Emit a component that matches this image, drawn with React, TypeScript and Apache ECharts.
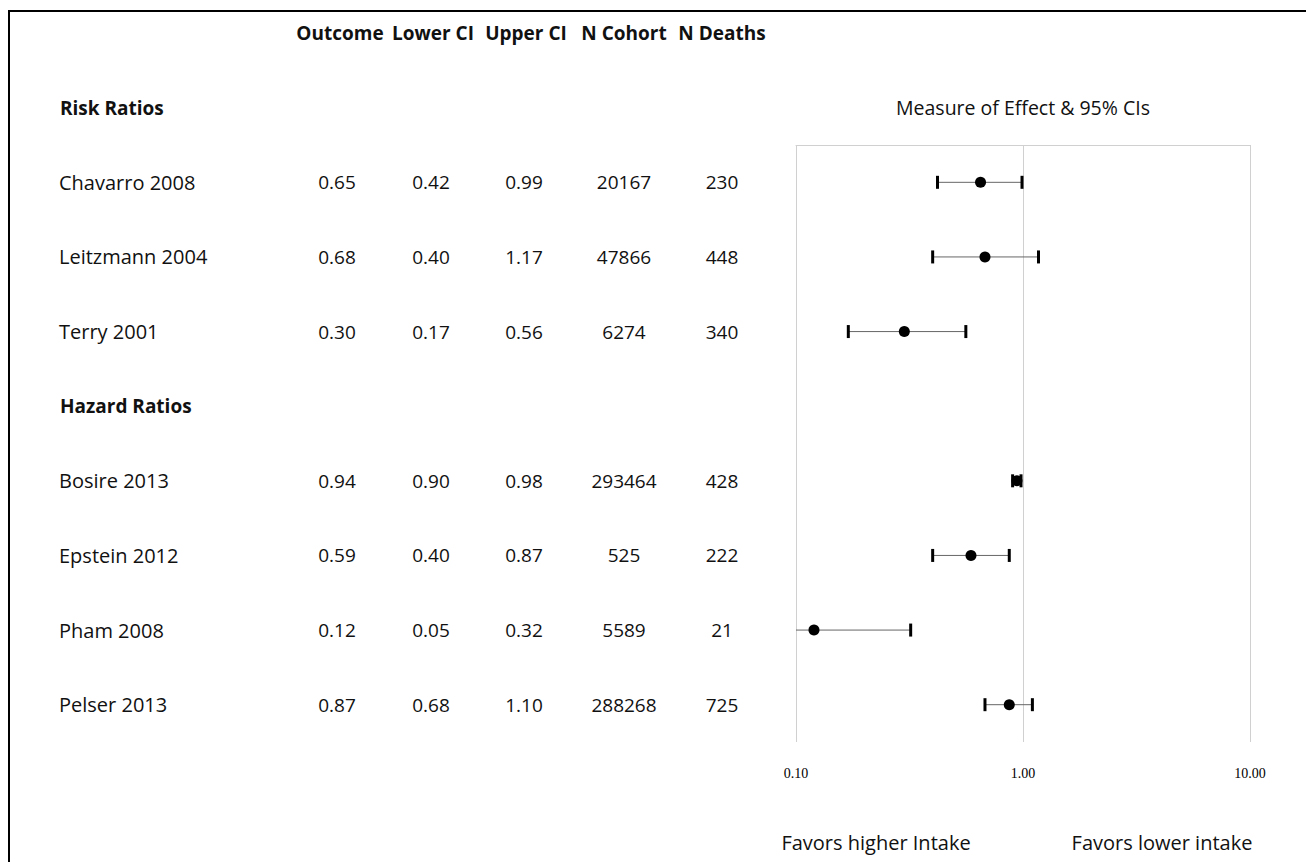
import React, { useEffect, useRef } from "react";
import * as echarts from "echarts";

// ---- data ----
const studies = ["Chavarro 2008", "Leitzmann 2004", "Terry 2001", "Bosire 2013", "Epstein 2012", "Pham 2008", "Pelser 2013"];
const studyRows = [1, 2, 3, 5, 6, 7, 8];
const groupLabels = ["Risk Ratios", "Hazard Ratios"];
const groupRows = [0, 4];
const outcome = [0.65, 0.68, 0.3, 0.94, 0.59, 0.12, 0.87];
const lowerCI = [0.42, 0.4, 0.17, 0.9, 0.4, 0.05, 0.68];
const upperCI = [0.99, 1.17, 0.56, 0.98, 0.87, 0.32, 1.1];
const nCohort = [20167, 47866, 6274, 293464, 525, 5589, 288268];
const nDeaths = [230, 448, 340, 428, 222, 21, 725];
const columnHeaders = ["Outcome", "Lower CI", "Upper CI", "N Cohort", "N Deaths"];
const plotTitle = "Measure of Effect & 95% CIs";
const favorLabels = ["Favors higher Intake", "Favors lower intake"];
const axisMin = 0.1;
const axisMax = 10;

const FONT = "'Open Sans', 'Noto Sans', sans-serif";
const headerX = [340, 433, 526, 624, 722];
const valueX = [337, 431, 524, 624, 722];
const headerRow = -1;

export default function App() {
  const ref = useRef<HTMLDivElement>(null);
  useEffect(() => {
    if (!ref.current) return;
    const chart = echarts.init(ref.current, null, { renderer: "svg" });
    const option: any = {
      animation: false,
      backgroundColor: "#fff",
      grid: { left: 796, right: 56, top: 145, bottom: 120, containLabel: false },
      xAxis: [
        {
          type: "log",
          logBase: 10,
          min: axisMin,
          max: axisMax,
          position: "bottom",
          axisLine: { show: false },
          axisTick: { show: false },
          splitLine: { show: true, lineStyle: { color: "#d0d0d0", width: 1 } },
          axisLabel: {
            margin: 24,
            fontFamily: "'Liberation Serif', 'DejaVu Serif', serif",
            fontSize: 14,
            color: "#000",
            formatter: (v: number) => Number(v).toFixed(2),
          },
        },
        {
          type: "log",
          logBase: 10,
          min: axisMin,
          max: axisMax,
          position: "top",
          axisLine: { show: true, lineStyle: { color: "#d0d0d0", width: 1 } },
          axisTick: { show: false },
          axisLabel: { show: false },
          splitLine: { show: false },
        },
      ],
      yAxis: { type: "value", min: 0.5, max: 8.5, inverse: true, show: false },
      series: [
        {
          type: "custom",
          clip: true,
          z: 2,
          encode: { x: [0, 1], y: 2 },
          data: studies.map((_, i) => [lowerCI[i], upperCI[i], studyRows[i]]),
          renderItem: (params: any, api: any) => {
            const y = api.value(2);
            const p1 = api.coord([api.value(0), y]);
            const p2 = api.coord([api.value(1), y]);
            const capW = 3;
            const capH = 13;
            return {
              type: "group",
              children: [
                {
                  type: "line",
                  shape: { x1: p1[0], y1: p1[1], x2: p2[0], y2: p2[1] },
                  style: { stroke: "#666", lineWidth: 1 },
                },
                {
                  type: "rect",
                  shape: { x: p1[0] - capW / 2, y: p1[1] - capH / 2, width: capW, height: capH },
                  style: { fill: "#000" },
                },
                {
                  type: "rect",
                  shape: { x: p2[0] - capW / 2, y: p2[1] - capH / 2, width: capW, height: capH },
                  style: { fill: "#000" },
                },
              ],
            };
          },
        },
        {
          type: "scatter",
          z: 3,
          symbol: "circle",
          symbolSize: 11,
          itemStyle: { color: "#000", opacity: 1 },
          data: studies.map((_, i) => [outcome[i], studyRows[i]]),
        },
      ],
    };
    chart.setOption(option);

    const rowY = (r: number) => chart.convertToPixel({ yAxisIndex: 0 } as any, r) as number;
    const txt = (x: number, y: number, text: string, opts: any = {}) => ({
      type: "text",
      x,
      y,
      silent: true,
      style: {
        text,
        fontFamily: FONT,
        fontSize: opts.fontSize ?? 19,
        fontWeight: opts.bold ? "bold" : "normal",
        fill: "#111",
        textAlign: opts.align ?? "left",
        textVerticalAlign: "middle",
      },
    });
    const els: any[] = [];
    els.push({
      type: "rect",
      silent: true,
      shape: { x: 9, y: 11, width: 1400, height: 900 },
      style: { fill: "none", stroke: "#000", lineWidth: 2 },
    });
    columnHeaders.forEach((h, j) => els.push(txt(headerX[j], rowY(headerRow), h, { bold: true, align: "center", fontSize: 19 })));
    groupLabels.forEach((g, k) => els.push(txt(60, rowY(groupRows[k]), g, { bold: true, fontSize: 19 })));
    studies.forEach((s, i) => {
      const y = rowY(studyRows[i]);
      els.push(txt(59, y, s, { fontSize: 20 }));
      const vals = [outcome[i].toFixed(2), lowerCI[i].toFixed(2), upperCI[i].toFixed(2), String(nCohort[i]), String(nDeaths[i])];
      vals.forEach((v, j) => els.push(txt(valueX[j], y, v, { align: "center", fontSize: 19 })));
    });
    const midX = chart.convertToPixel({ xAxisIndex: 0 } as any, 1) as number;
    els.push(txt(midX, rowY(0), plotTitle, { align: "center", fontSize: 19.5 }));
    els.push(txt(876, 842, favorLabels[0], { align: "center", fontSize: 20 }));
    els.push(txt(1162, 842, favorLabels[1], { align: "center", fontSize: 20 }));
    chart.setOption({ graphic: { elements: els } });

    return () => chart.dispose();
  }, []);
  return <div ref={ref} style={{ position: "absolute", left: 0, top: 0, width: 1306, height: 862 }} />;
}
